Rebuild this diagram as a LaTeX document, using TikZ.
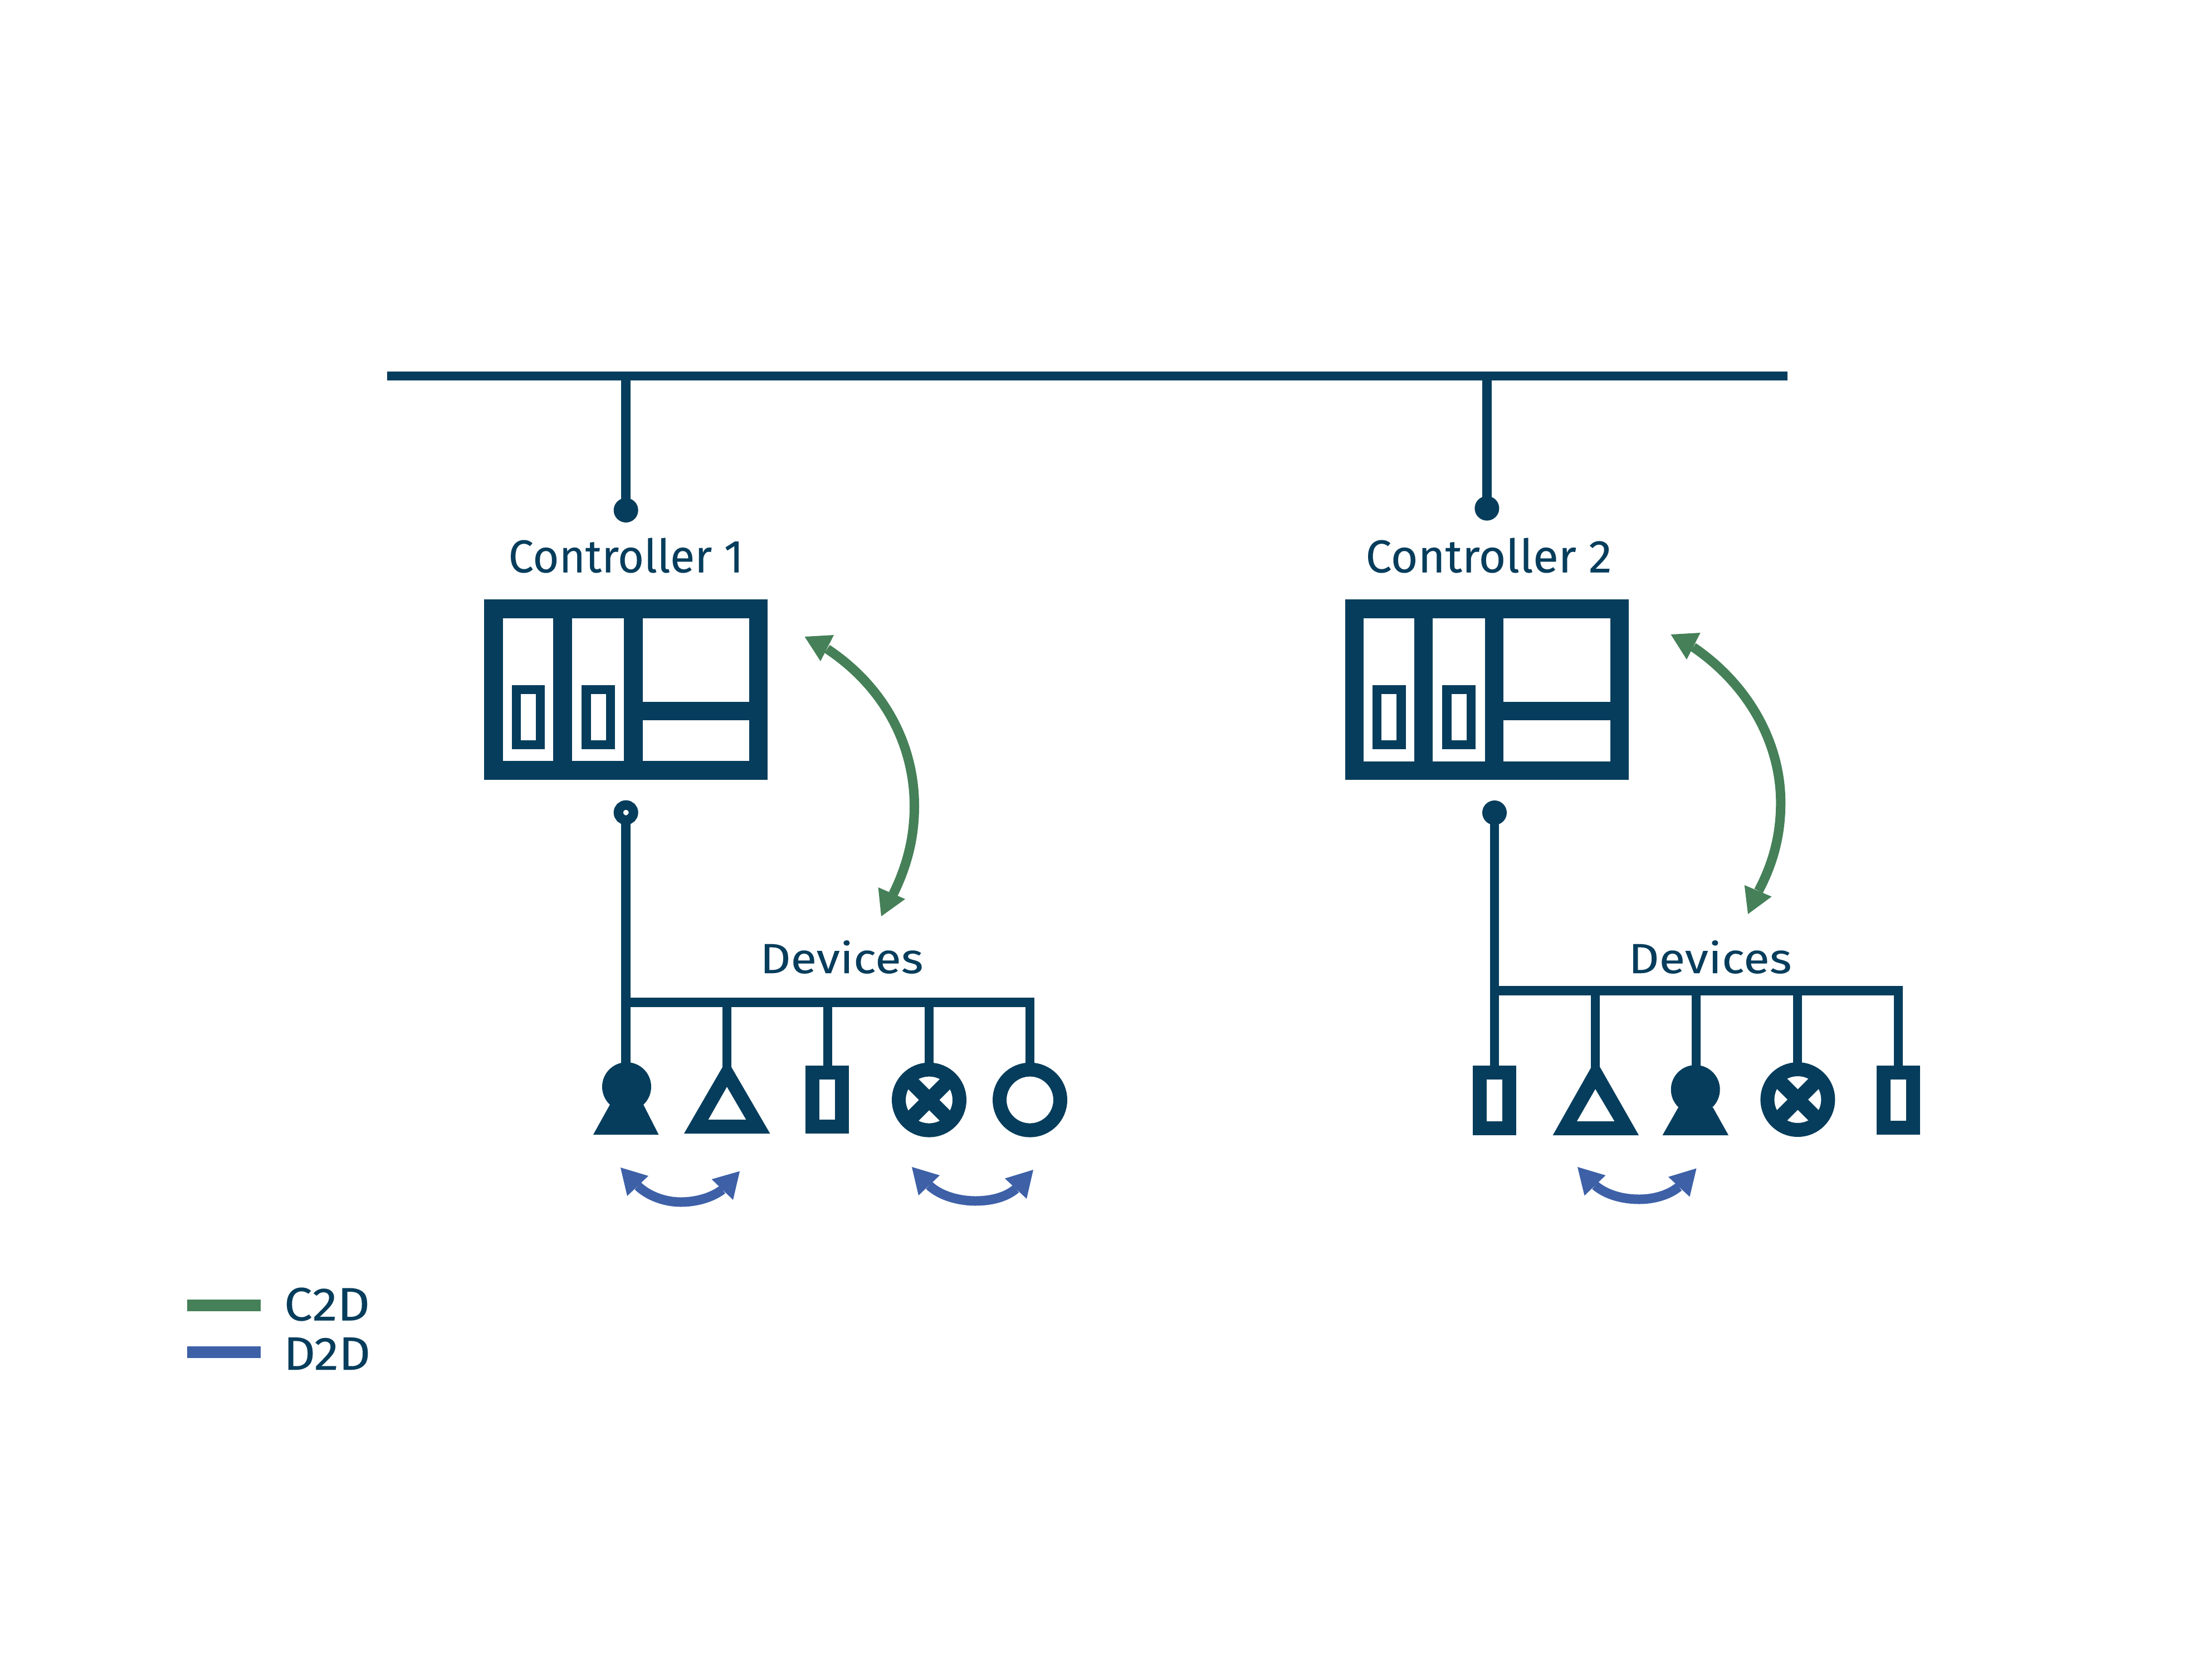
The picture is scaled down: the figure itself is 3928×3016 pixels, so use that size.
\documentclass[tikz,border=0pt]{standalone}
\usepackage{fontspec}
\usepackage{graphicx}
\setmainfont[FakeBold=0.15]{Fira Sans}
\definecolor{navy}{HTML}{073D5C}
\definecolor{cgreen}{HTML}{458058}
\definecolor{dblue}{HTML}{3D60A7}
\newcommand{\lab}[3]{\resizebox{#1pt}{#2pt}{\fontsize{80pt}{90pt}\selectfont #3}}
\tikzset{
  wire/.style={draw=navy,line width=16.5pt,line join=miter},
  label/.style={text=navy,inner sep=0pt,outer sep=0pt},
  port/.style={circle,fill=navy,inner sep=0pt,outer sep=0pt,minimum size=44pt},
  hollowport/.style={circle,draw=navy,fill=white,line width=17pt,inner sep=0pt,outer sep=0pt,minimum size=27pt},
  plcbody/.style={fill=navy,inner sep=0pt,outer sep=0pt},
  win/.style={fill=white},
  rdev/.style={rectangle,draw=navy,fill=white,line width=25pt,inner sep=0pt,outer sep=0pt,minimum width=52.6pt,minimum height=97pt},
  ringdev/.style={circle,draw=navy,fill=white,line width=25pt,inner sep=0pt,outer sep=0pt,minimum size=109pt},
  keydev/.style={circle,fill=navy,inner sep=0pt,outer sep=0pt,minimum size=88pt},
  crossbar/.style={draw=navy,line width=26pt},
  gshaft/.style={draw=cgreen,line width=17pt},
  bshaft/.style={draw=dblue,line width=17pt},
  ghead/.style={fill=cgreen},
  bhead/.style={fill=dblue},
}
\begin{document}
\begin{tikzpicture}[x=1pt,y=-1pt]
\useasboundingbox (0,0) rectangle (3928,3016);
\fill[white] (0,0) rectangle (3928,3016);

% main bus
\coordinate (busL) at (695,674.7);
\coordinate (busR) at (3209.4,674.7);
\draw[wire,line width=16pt] (busL) -- (busR);

% ---- Controller 1
\coordinate (tap1) at (1123.7,674.7);
\node[port] (c1top) at (1123.7,916) {};
\draw[wire] (tap1) -- (c1top.center);
\node[label] (c1lab) at (1123.7,997) {\lab{422}{62}{Controller 1}};
\node[plcbody,minimum width=508.6pt,minimum height=324pt] (plc1) at (1123.7,1238) {};
\fill[win] (903,1110) rectangle (993,1366);
\fill[win] (1027,1110) rectangle (1120,1366);
\fill[win] (1154,1110) rectangle (1345,1260);
\fill[win] (1154,1293) rectangle (1345,1366);
\fill[navy] (919,1230) rectangle (978,1345);
\fill[win] (935,1246) rectangle (962,1329);
\fill[navy] (1044,1230) rectangle (1103.6,1345);
\fill[win] (1060.5,1246) rectangle (1087.5,1329);

% C2D arrow 1
\coordinate (g1a) at (1485,1165);
\coordinate (g1m) at (1641.5,1447);
\coordinate (g1b) at (1603.6,1605);
\draw[gshaft] (g1a) .. controls (1590,1235) and (1641.5,1340) .. (g1m) .. controls (1641.5,1505) and (1628,1555) .. (g1b);
\fill[ghead] (1444.6,1143) -- (1497,1140) -- (1473,1187) -- cycle;
\fill[ghead] (1582,1645) -- (1576.6,1593) -- (1625,1614) -- cycle;

% Devices 1
\node[label] (d1lab) at (1511,1718) {\lab{293}{59}{Devices}};
\coordinate (b1s) at (1124,1799.5);
\coordinate (b1a) at (1305,1799.5);
\coordinate (b1b) at (1486,1799.5);
\coordinate (b1c) at (1668,1799.5);
\coordinate (b1e) at (1849,1799.5);

\fill[navy] (1065,2037) -- (1095,1983) -- (1155,1983) -- (1182.5,2037) -- cycle;
\node[keydev] (k1) at (1125,1951) {};
\coordinate (tri1) at (1305,1915);
\fill[navy,even odd rule] (1228,2035) -- (1305,1902) -- (1382.4,2035) -- cycle (1271.5,2010) -- (1305,1951) -- (1339.4,2010) -- cycle;
\node[rdev] (r1) at (1484.8,1974) {};
\node[ringdev] (x1) at (1668,1974.6) {};
\draw[crossbar] (x1.45) -- (x1.225);
\draw[crossbar] (x1.135) -- (x1.315);
\node[ringdev] (o1) at (1849,1974.6) {};

\node[hollowport] (c1bot) at (1123.7,1458.7) {};
\draw[wire] (c1bot.south) -- (k1.center -| c1bot);
\draw[wire] (b1s) -- (b1e) -- (o1.north -| b1e);
\draw[wire] (b1a) -- (tri1);
\draw[wire] (b1b) -- (b1b |- r1.north);
\draw[wire] (b1c) -- (x1.north);

% D2D arrows 1
\coordinate (a1l) at (1145,2129);
\coordinate (a1m) at (1222,2158);
\coordinate (a1r) at (1297,2135.5);
\draw[bshaft] (a1l) .. controls (1165,2148) and (1195,2158) .. (a1m) .. controls (1250,2158) and (1278,2150) .. (a1r);
\fill[bhead] (1114,2096) -- (1164,2111) -- (1126,2147) -- cycle;
\fill[bhead] (1328,2102.6) -- (1277.6,2117) -- (1316,2154) -- cycle;

\coordinate (a2l) at (1668,2128);
\coordinate (a2m) at (1751,2156);
\coordinate (a2r) at (1824,2134);
\draw[bshaft] (a2l) .. controls (1688,2147) and (1722,2156) .. (a2m) .. controls (1778,2156) and (1805,2150) .. (a2r);
\fill[bhead] (1637,2095) -- (1687,2110) -- (1649,2146) -- cycle;
\fill[bhead] (1855,2100) -- (1804,2115.6) -- (1843,2152) -- cycle;

% ---- Controller 2
\coordinate (tap2) at (2669.4,674.7);
\node[port] (c2top) at (2669.4,912.6) {};
\draw[wire] (tap2) -- (c2top.center);
\node[label] (c2lab) at (2672.5,997) {\lab{442}{62}{Controller 2}};
\node[plcbody,minimum width=509pt,minimum height=324pt] (plc2) at (2669.5,1238) {};
\fill[win] (2448,1110) rectangle (2539,1367);
\fill[win] (2572,1110) rectangle (2666,1367);
\fill[win] (2699,1110) rectangle (2890.5,1260);
\fill[win] (2699,1293) rectangle (2890.5,1367);
\fill[navy] (2464,1230) rectangle (2524,1345);
\fill[win] (2480,1246) rectangle (2507,1329);
\fill[navy] (2589,1230) rectangle (2649,1345);
\fill[win] (2606,1246) rectangle (2633,1329);

% C2D arrow 2
\coordinate (g2a) at (3039.6,1161.6);
\coordinate (g2m) at (3196.8,1441);
\coordinate (g2b) at (3157,1599.4);
\draw[gshaft] (g2a) .. controls (3140,1230) and (3196.8,1335) .. (g2m) .. controls (3196.8,1500) and (3183,1550) .. (g2b);
\fill[ghead] (2999.5,1139) -- (3052.6,1136) -- (3028,1184) -- cycle;
\fill[ghead] (3138,1641) -- (3131.7,1589) -- (3180.5,1609.6) -- cycle;

% Devices 2
\node[label] (d2lab) at (3070,1718) {\lab{293}{59}{Devices}};
\coordinate (b2s) at (2683,1778.5);
\coordinate (b2a) at (2864,1778.5);
\coordinate (b2b) at (3045,1778.5);
\coordinate (b2c) at (3227,1778.5);
\coordinate (b2e) at (3408,1778.5);

\node[rdev,minimum height=100pt] (r2a) at (2682.85,1975.5) {};
\coordinate (tri2) at (2864,1919);
\fill[navy,even odd rule] (2787.7,2038) -- (2864.5,1902) -- (2942,2038) -- cycle (2830.8,2013) -- (2864,1955) -- (2898.5,2013) -- cycle;
\fill[navy] (2984.6,2038) -- (3013,1988) -- (3075,1988) -- (3103,2038) -- cycle;
\node[keydev] (k2) at (3043.7,1956) {};
\node[ringdev] (x2) at (3227.4,1974) {};
\draw[crossbar] (x2.45) -- (x2.225);
\draw[crossbar] (x2.135) -- (x2.315);
\node[rdev,minimum height=99pt] (r2b) at (3407.85,1975) {};

\node[port] (c2bot) at (2683,1459) {};
\draw[wire] (c2bot.center) -- (r2a.north -| c2bot);
\draw[wire] (b2s) -- (b2e) -- (r2b.north -| b2e);
\draw[wire] (b2a) -- (tri2);
\draw[wire] (b2b) -- (b2b |- k2);
\draw[wire] (b2c) -- (x2.north -| b2c);

% D2D arrow 3
\coordinate (a3l) at (2863.5,2128);
\coordinate (a3m) at (2942.7,2153);
\coordinate (a3r) at (3014,2130.5);
\draw[bshaft] (a3l) .. controls (2885,2146) and (2915,2153) .. (a3m) .. controls (2968,2153) and (2995,2146) .. (a3r);
\fill[bhead] (2832,2095) -- (2882.4,2110) -- (2844.5,2146.4) -- cycle;
\fill[bhead] (3045.5,2097.5) -- (2995,2112.8) -- (3033.4,2148.5) -- cycle;

% legend
\coordinate (lg1) at (336,2343.5);
\coordinate (lg2) at (467.7,2343.5);
\coordinate (lb1) at (336,2427);
\coordinate (lb2) at (467.7,2427);
\draw[draw=cgreen,line width=21pt] (lg1) -- (lg2);
\draw[draw=dblue,line width=21pt] (lb1) -- (lb2);
\node[label] (lgt) at (587,2341.5) {\lab{154}{59}{C2D}};
\node[label] (lbt) at (587,2430) {\lab{156}{58}{D2D}};
\end{tikzpicture}
\end{document}
